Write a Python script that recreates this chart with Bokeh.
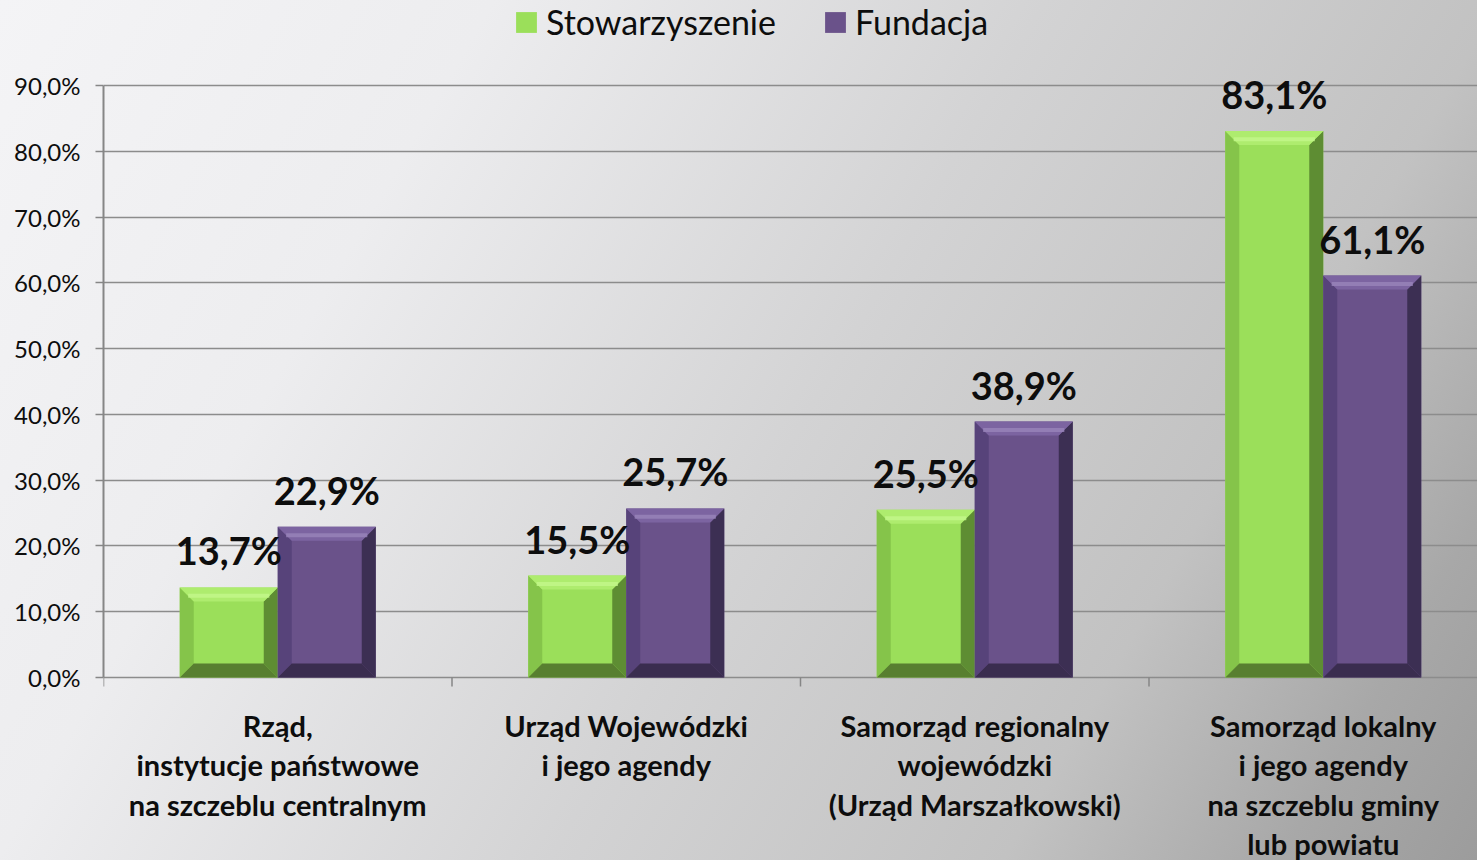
from bokeh.plotting import figure
from bokeh.models import (Range1d, FixedTicker, Legend, LegendItem, LabelSet,
                          ColumnDataSource, GlobalInlineStyleSheet)
from bokeh.embed import file_html
from bokeh.resources import INLINE
from bokeh.core.properties import value

# ---------------- data ----------------
categories = [
    "Rząd,\ninstytucje państwowe\nna szczeblu centralnym",
    "Urząd Wojewódzki\ni jego agendy",
    "Samorząd regionalny\nwojewódzki\n(Urząd Marszałkowski)",
    "Samorząd lokalny\ni jego agendy\nna szczeblu gminy\nlub powiatu",
]
series_names = ["Stowarzyszenie", "Fundacja"]
stowarzyszenie = [13.7, 15.5, 25.5, 83.1]
fundacja = [22.9, 25.7, 38.9, 61.1]
y_ticks = [0, 10, 20, 30, 40, 50, 60, 70, 80, 90]
y_tick_labels = ["0,0%", "10,0%", "20,0%", "30,0%", "40,0%",
                 "50,0%", "60,0%", "70,0%", "80,0%", "90,0%"]

# ---------------- layout / style ----------------
W, H = 1477, 860
LEFT = 103            # frame left (y axis position)
TOP_PX, BASE_PX = 85, 677   # pixel rows of the top tick and of the baseline
CAT_PX = 348.5        # width of one category in pixels
y_max = y_ticks[-1]
ux = 1.0 / CAT_PX
uy = y_max / (BASE_PX - TOP_PX)
x_end = (W - LEFT) * ux
y_lo = -(H - BASE_PX) * uy
y_hi = y_max + TOP_PX * uy
BAR_W = 98 * ux
BEV = 14
dx, dy = BEV * ux, BEV * uy
CAT_FIRST = 48        # px below baseline of the first category-label line
CAT_STEP = 39.4       # px between category-label lines

FONT = "Lato"
TXT = "#0d0d0d"
AXIS_C = "#868686"

styles = {
    "Stowarzyszenie": dict(main="#9bdf5a", top="#aeec6e", hi="#c3f78b",
                           left="#85c44a", right="#5e8d33", bottom="#587f30"),
    "Fundacja": dict(main="#6a528a", top="#7c64a1", hi="#9984ba",
                     left="#57437a", right="#3c2f53", bottom="#3a2d4f"),
}

p = figure(width=W, height=H, output_backend="svg", toolbar_location=None,
           x_range=Range1d(0, x_end), y_range=Range1d(y_lo, y_hi),
           min_border_left=LEFT, min_border_top=0,
           min_border_bottom=0, min_border_right=0)
p.background_fill_color = None
p.border_fill_color = None
p.outline_line_color = None

grad = ("html, body { margin: 0; background: linear-gradient(120deg, #f4f4f6 0%, #ededef 25%, "
        "#d3d3d4 53%, #c2c2c2 76%, #a8a8a8 90%, #9c9c9c 100%) fixed; "
        "min-height: 100%; }")
p.stylesheets = [GlobalInlineStyleSheet(css=grad)]

# y axis
p.yaxis.ticker = FixedTicker(ticks=y_ticks)
p.yaxis.bounds = (y_ticks[0], y_ticks[-1])
p.yaxis.major_label_overrides = {t: l for t, l in zip(y_ticks, y_tick_labels)}
p.yaxis.axis_line_color = AXIS_C
p.yaxis.axis_line_width = 2
p.yaxis.major_tick_line_color = AXIS_C
p.yaxis.major_tick_line_width = 1.5
p.yaxis.major_tick_out = 8
p.yaxis.major_tick_in = 0
p.yaxis.minor_tick_line_color = None
p.yaxis.major_label_text_font = FONT
p.yaxis.major_label_text_font_size = "24px"
p.yaxis.major_label_text_color = TXT
p.yaxis.major_label_standoff = 15

p.xaxis.visible = False
p.xgrid.grid_line_color = None
p.ygrid.ticker = FixedTicker(ticks=y_ticks)
p.ygrid.grid_line_color = "#8c8c8c"
p.ygrid.grid_line_width = 1.6

# category boundary ticks below the baseline
bounds = list(range(len(categories) + 1))
p.segment(x0=bounds, y0=[0] * len(bounds), x1=bounds, y1=[-9 * uy] * len(bounds),
          line_color=AXIS_C, line_width=1.5)

# bars
renderers = {}
label_x, label_y, label_t = [], [], []
for si, (name, vals) in enumerate(zip(series_names, [stowarzyszenie, fundacja])):
    st = styles[name]
    x0 = [i + 0.5 - BAR_W + si * BAR_W for i in range(len(vals))]
    x1 = [a + BAR_W for a in x0]
    src = ColumnDataSource(dict(left=x0, right=x1, top=vals, bottom=[0] * len(vals)))
    r = p.quad(left="left", right="right", top="top", bottom="bottom", source=src,
               fill_color=st["main"], line_color=None)
    renderers[name] = r
    faces = {"top": ([], []), "bottom": ([], []), "left": ([], []), "right": ([], [])}
    hx, hy = [], []
    for a, b, v in zip(x0, x1, vals):
        faces["top"][0].append([a, b, b - dx, a + dx]); faces["top"][1].append([v, v, v - dy, v - dy])
        faces["bottom"][0].append([a, b, b - dx, a + dx]); faces["bottom"][1].append([0, 0, dy, dy])
        faces["left"][0].append([a, a, a + dx, a + dx]); faces["left"][1].append([0, v, v - dy, dy])
        faces["right"][0].append([b, b, b - dx, b - dx]); faces["right"][1].append([0, v, v - dy, dy])
        hx.append([a + dx * 0.6, b - dx * 0.6]); hy.append([v - dy * 0.6, v - dy * 0.6])
        label_x.append((a + b) / 2); label_y.append(v)
        label_t.append(f"{v:.1f}".replace(".", ",") + "%")
    for face in ["left", "right", "bottom", "top"]:
        p.patches(xs=faces[face][0], ys=faces[face][1], fill_color=st[face], line_color=None)
    p.multi_line(xs=hx, ys=hy, line_color=st["hi"], line_width=4, line_alpha=0.8)

# data labels
lsrc = ColumnDataSource(dict(x=label_x, y=label_y, t=label_t))
p.add_layout(LabelSet(x="x", y="y", text="t", source=lsrc, text_align="center",
                      text_baseline="alphabetic", y_offset=22,
                      text_font=value(FONT), text_font_style="bold",
                      text_font_size="38px", text_color=TXT))

# category labels, one centred LabelSet per line
split = [c.split("\n") for c in categories]
for k in range(max(len(s) for s in split)):
    xs = [i + 0.5 for i, s in enumerate(split) if len(s) > k]
    ts = [s[k] for s in split if len(s) > k]
    csrc = ColumnDataSource(dict(x=xs, y=[0] * len(xs), t=ts))
    p.add_layout(LabelSet(x="x", y="y", text="t", source=csrc, text_align="center",
                          text_baseline="middle", y_offset=-(CAT_FIRST + k * CAT_STEP),
                          text_font=value(FONT), text_font_style="bold",
                          text_font_size="29px", text_color=TXT))

# legend
legend = Legend(items=[LegendItem(label=n, renderers=[renderers[n]]) for n in series_names],
                orientation="horizontal", location=(410, 818),
                label_text_font=FONT, label_text_font_size="34px",
                label_text_color=TXT, glyph_width=26, glyph_height=26,
                spacing=46, label_standoff=7, padding=0, margin=0,
                background_fill_alpha=0, border_line_color=None)
p.add_layout(legend)

open("out.html", "w").write(file_html(p, INLINE))
